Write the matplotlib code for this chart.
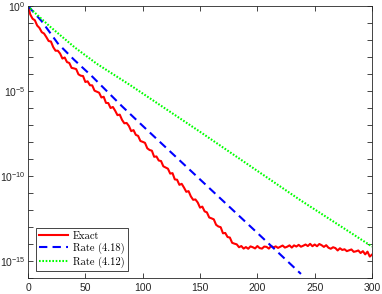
import numpy as np
import matplotlib
matplotlib.use("Agg")
import matplotlib.pyplot as plt
from matplotlib.ticker import LogLocator, FixedLocator, LogFormatterSciNotation, NullFormatter

plt.rcParams['font.family'] = ['Liberation Sans', 'DejaVu Sans']
plt.rcParams['mathtext.fontset'] = 'custom'
plt.rcParams['mathtext.rm'] = 'Liberation Sans'
plt.rcParams['mathtext.it'] = 'Liberation Sans:italic'

# exact error, log10 values sampled every 2 iterations
exact_k = np.arange(0, 301, 2)
exact_log = [
    0.0, -0.50, -0.75, -0.84, -1.15, -1.29, -1.54, -1.62, -1.83, -2.06,
    -2.09, -2.42, -2.63, -2.63, -2.80, -3.09, -3.03, -3.30, -3.35, -3.64,
    -3.67, -3.71, -4.02, -4.10, -4.12, -4.47, -4.43, -4.66, -4.67, -4.98,
    -5.04, -5.10, -5.38, -5.34, -5.70, -5.71, -6.00, -5.94, -6.16, -6.42,
    -6.39, -6.70, -6.90, -6.88, -7.06, -7.36, -7.30, -7.58, -7.64, -7.94,
    -7.99, -8.05, -8.37, -8.47, -8.51, -8.87, -8.85, -9.09, -9.12, -9.43,
    -9.50, -9.57, -9.86, -9.83, -10.20, -10.22, -10.52, -10.46, -10.68, -10.93,
    -10.89, -11.20, -11.40, -11.38, -11.56, -11.86, -11.80, -12.08, -12.14, -12.44,
    -12.49, -12.55, -12.87, -12.97, -13.01, -13.37, -13.35, -13.59, -13.62, -13.93,
    -13.98, -14.02, -14.19, -14.12, -14.27, -14.18, -14.28, -14.14, -14.19, -14.26,
    -14.12, -14.24, -14.27, -14.15, -14.17, -14.27, -14.12, -14.20, -14.14, -14.23,
    -14.16, -14.09, -14.21, -14.16, -14.08, -14.21, -14.08, -14.15, -14.05, -14.16,
    -14.10, -14.03, -14.12, -13.99, -14.13, -14.03, -14.13, -14.00, -14.07, -14.17,
    -14.07, -14.22, -14.28, -14.19, -14.24, -14.38, -14.25, -14.35, -14.31, -14.42,
    -14.37, -14.32, -14.46, -14.43, -14.38, -14.53, -14.42, -14.61, -14.45, -14.74,
    -14.62,
]

# rate (4.18)
rate418_k = [0, 6, 12, 26, 40, 56, 82, 100, 150, 200, 238]
rate418_log = [0.0, -0.45, -0.9, -2.2, -3.15, -4.15, -5.9, -7.05, -10.2, -13.35, -15.76]

# rate (4.12)
rate412_k = [0, 6, 19, 41, 60, 89, 150, 200, 237, 300]
rate412_log = [0.0, -0.4, -1.2, -2.45, -3.4, -4.65, -7.4, -9.7, -11.4, -14.15]

fig = plt.figure(figsize=(3.82, 2.94), dpi=100)
ax = fig.add_axes([0.0733, 0.0544, 0.9007, 0.9252])

ax.semilogy(exact_k, 10.0 ** np.array(exact_log), color='#FF0000', lw=1.5, label='Exact')
ax.semilogy(rate418_k, 10.0 ** np.array(rate418_log), color='#0000FF', lw=1.5,
            ls=(0, (4, 2.5)), label='Rate (4.18)')
ax.semilogy(rate412_k, 10.0 ** np.array(rate412_log), color='#00FF00', lw=1.5,
            ls=(0, (0.8, 0.8)), label='Rate (4.12)')

ax.set_xlim(0, 300)
ax.set_ylim(1e-16, 1e0)
ax.set_xticks([0, 50, 100, 150, 200, 250, 300])
ax.yaxis.set_major_locator(FixedLocator([1e-15, 1e-10, 1e-5, 1e0]))
ax.yaxis.set_major_formatter(LogFormatterSciNotation())
ax.yaxis.set_minor_locator(LogLocator(base=10, subs=(1.0,), numticks=30))
ax.yaxis.set_minor_formatter(NullFormatter())

ax.tick_params(which='both', direction='in', top=True, right=True,
               color='#262626', labelcolor='#262626', labelsize=7.5, width=0.6)
ax.tick_params(which='both', length=3.5)
ax.tick_params(axis='y', pad=2)
for s in ax.spines.values():
    s.set_color('#262626')
    s.set_linewidth(0.6)

leg = ax.legend(loc='lower left', bbox_to_anchor=(0.022, 0.025), fancybox=False,
                prop={'family': 'cmr10', 'size': 7.5}, handlelength=2.8,
                labelspacing=0.2, borderpad=0.35, handletextpad=0.4,
                borderaxespad=0.0, framealpha=1)
leg.get_frame().set_edgecolor('#262626')
leg.get_frame().set_linewidth(0.6)

fig.savefig('out.png', dpi=100)
